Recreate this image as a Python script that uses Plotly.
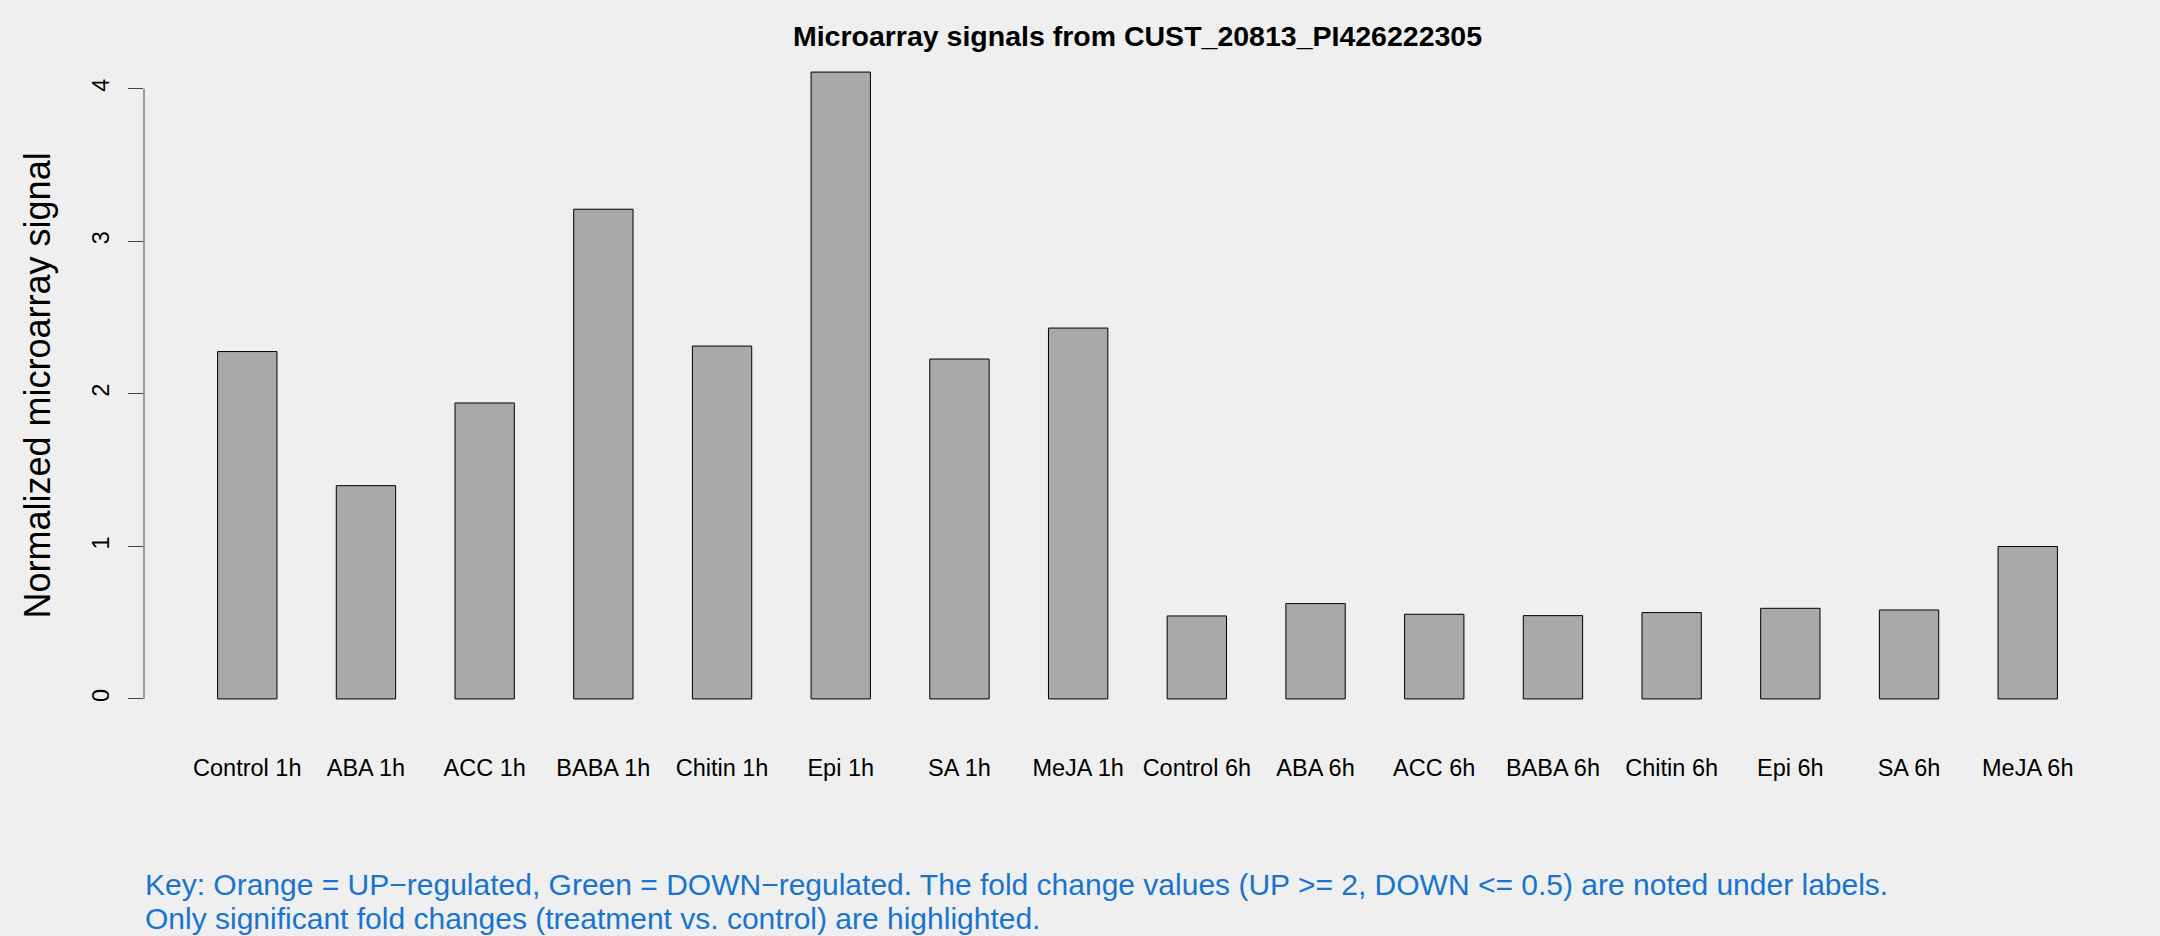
import plotly.graph_objects as go

categories = ["Control 1h", "ABA 1h", "ACC 1h", "BABA 1h", "Chitin 1h", "Epi 1h", "SA 1h", "MeJA 1h",
              "Control 6h", "ABA 6h", "ACC 6h", "BABA 6h", "Chitin 6h", "Epi 6h", "SA 6h", "MeJA 6h"]
signal = [2.277, 1.398, 1.94, 3.21, 2.313, 4.109, 2.228, 2.431,
          0.544, 0.625, 0.555, 0.546, 0.566, 0.594, 0.583, 0.999]
y_ticks = [0, 1, 2, 3, 4]
title_text = "Microarray signals from CUST_20813_PI426222305"
y_label = "Normalized microarray signal"
key_lines = ["Key: Orange = UP\u2212regulated, Green = DOWN\u2212regulated. The fold change values (UP >= 2, DOWN <= 0.5) are noted under labels.",
             "Only significant fold changes (treatment vs. control) are highlighted."]

W, H = 2160, 936
L, R, T, B = 144, 29.4, 46.6, 212.2
plot_h = H - T - B
plot_w = W - L - R

FONT = "Liberation Sans, Arial, Helvetica, sans-serif"
BG = "#EFEFEF"

fig = go.Figure()
fig.add_trace(go.Bar(
    x=categories, y=signal, width=0.5,
    marker=dict(color="#A9A9A9", line=dict(color="#000000", width=1)),
    hoverinfo="x+y",
))

ymax = max(signal)
pad = ymax * 0.04

fig.update_layout(
    width=W, height=H,
    paper_bgcolor=BG, plot_bgcolor=BG,
    margin=dict(l=L, r=R, t=T, b=B, autoexpand=False),
    showlegend=False,
    font=dict(family=FONT, color="#000000", size=23.5),
    title=dict(text=title_text, x=0.5, xref="paper", xanchor="center",
               y=(H - 36) / H, yref="container", yanchor="middle",
               font=dict(family=FONT, size=28.5, weight="bold", color="#000000")),
    xaxis=dict(type="category", range=[-0.87, 15.87], showgrid=False, zeroline=False,
               showline=False, ticks="", ticklabelstandoff=27,
               tickfont=dict(family=FONT, size=23.5, color="#000000")),
    yaxis=dict(range=[-pad, ymax + pad], showgrid=False, zeroline=False, showline=False,
               tickvals=y_ticks, ticktext=[str(v) for v in y_ticks],
               ticks="outside", ticklen=15, tickwidth=1, tickcolor="#444444",
               tickangle=-90, ticklabelstandoff=10,
               tickfont=dict(family=FONT, size=23.5, color="#000000")),
)

# y axis line spanning only tick range (R style)
fig.add_shape(type="line", xref="paper", yref="y", x0=0, x1=0, y0=y_ticks[0], y1=y_ticks[-1],
              line=dict(color="#444444", width=1))

# y axis label
fig.add_annotation(text=y_label, xref="paper", yref="paper",
                   x=(38 - L) / plot_w, y=0.5, xanchor="center", yanchor="middle",
                   textangle=-90, showarrow=False,
                   font=dict(family=FONT, size=36, color="#000000"))

# key text (one annotation per line for tighter R-like line spacing)
key_top = 867
line_step = 34
for i, line in enumerate(key_lines):
    fig.add_annotation(text=line, xref="paper", yref="paper",
                       x=0, y=(H - B - (key_top + i * line_step)) / plot_h,
                       xanchor="left", yanchor="top", align="left", showarrow=False,
                       borderpad=0,
                       font=dict(family=FONT, size=30, color="#1874CD"))

fig.write_html("out.html", config={"displayModeBar": False},
               post_script="document.body.style.margin='0';document.body.style.overflow='hidden';")
